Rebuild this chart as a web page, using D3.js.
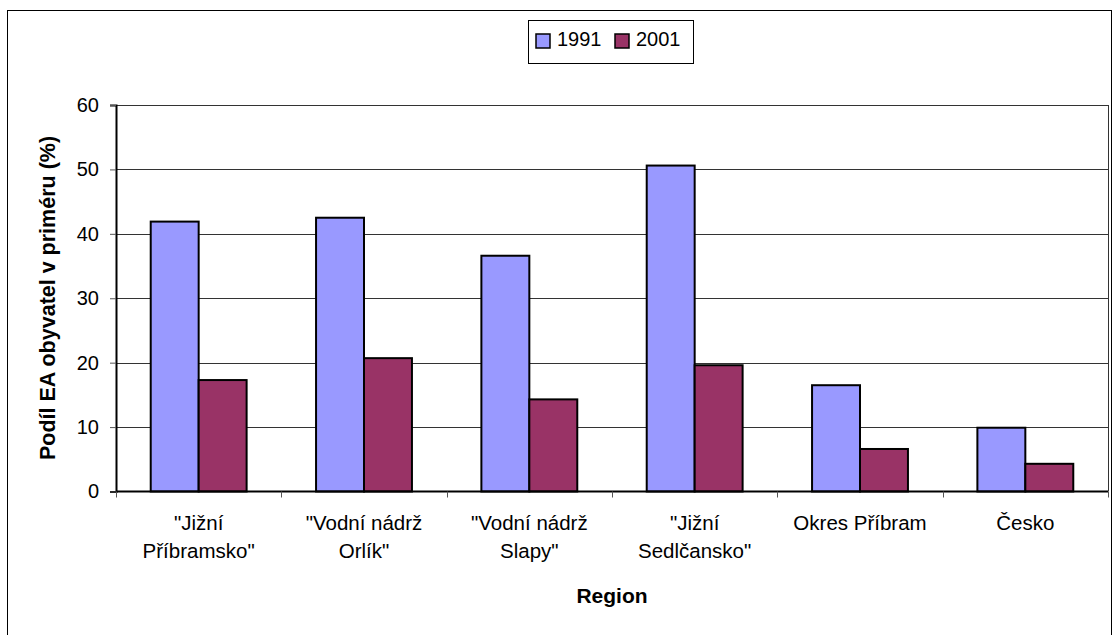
<!DOCTYPE html>
<html>
<head>
<meta charset="utf-8">
<script src="https://cdn.jsdelivr.net/npm/d3@7"></script>
<style>
	body { margin: 0; background: white; }
	text { font-family: "Liberation Sans", Arial, sans-serif; }
</style>
</head>
<body>
<div id="root"></div>
<script>
//categories and values
const regions = [["\"Jižní", "Příbramsko\""], ["\"Vodní nádrž", "Orlík\""], ["\"Vodní nádrž", "Slapy\""], ["\"Jižní", "Sedlčansko\""], ["Okres Příbram"], ["Česko"]];
const years = ["1991", "2001"];
const values1991 = [41.9, 42.5, 36.6, 50.6, 16.5, 9.9];
const values2001 = [17.3, 20.7, 14.3, 19.6, 6.6, 4.3];
const yTicks = [0, 10, 20, 30, 40, 50, 60];
const colors = ["#9999ff", "#993366"];

//dimensions of svg canvas
const width = 1115;
const height = 635;
const plotLeft = 116, plotRight = 1108, plotTop = 105, plotBottom = 491.5;

const svg = d3.select("#root")
	.append("svg")
	.attr("width", width)
	.attr("height", height);

//outer chart border (bottom edge runs off the picture)
svg.append("rect")
	.attr("x", 7.5).attr("y", 10.5)
	.attr("width", 1104).attr("height", 640)
	.attr("fill", "white")
	.attr("stroke", "black");

const idx = d3.range(regions.length);

const xScale = d3.scaleBand()
	.domain(idx)
	.range([plotLeft, plotRight])
	.paddingInner(0.42)
	.paddingOuter(0.21);

const xSub = d3.scaleBand()
	.domain(years)
	.range([0, xScale.bandwidth()]);

const yScale = d3.scaleLinear()
	.domain([0, 60])
	.range([plotBottom, plotTop]);

//gridlines
svg.append("g")
	.selectAll("line")
	.data(yTicks.slice(1))
	.enter()
	.append("line")
	.attr("x1", plotLeft).attr("x2", plotRight)
	.attr("y1", d => Math.round(yScale(d)) + 0.5)
	.attr("y2", d => Math.round(yScale(d)) + 0.5)
	.attr("stroke", "#333");

//right border of plot area
svg.append("line")
	.attr("x1", plotRight + 0.5).attr("x2", plotRight + 0.5)
	.attr("y1", plotTop).attr("y2", plotBottom)
	.attr("stroke", "#333");

//bars
const series = [values1991, values2001];
series.forEach(function(vals, s){
	svg.append("g")
	.selectAll("rect")
	.data(vals)
	.enter()
	.append("rect")
	.attr("x", (d, i) => xScale(i) + xSub(years[s]))
	.attr("y", d => yScale(d))
	.attr("width", xSub.bandwidth())
	.attr("height", d => plotBottom - yScale(d))
	.attr("fill", colors[s])
	.attr("stroke", "black")
	.attr("stroke-width", 2);
});

//Y axis
const yAxis = d3.axisLeft(yScale).tickValues(yTicks).tickSize(6).tickPadding(11);
const gy = svg.append("g")
	.attr("transform", "translate(" + plotLeft + ",0)")
	.call(yAxis);
gy.select(".domain").attr("stroke-width", 2);
gy.selectAll(".tick line").attr("stroke", "#555");
gy.selectAll("text").style("font-size", "20px").attr("fill", "black");

//X axis with ticks between categories
const xEdge = d3.scaleLinear().domain([0, regions.length]).range([plotLeft, plotRight]);
svg.append("line")
	.attr("x1", plotLeft).attr("x2", plotRight)
	.attr("y1", plotBottom).attr("y2", plotBottom)
	.attr("stroke", "black").attr("stroke-width", 2);
svg.append("g")
	.selectAll("line")
	.data(d3.range(regions.length + 1))
	.enter()
	.append("line")
	.attr("x1", d => Math.round(xEdge(d)) + 0.5)
	.attr("x2", d => Math.round(xEdge(d)) + 0.5)
	.attr("y1", plotBottom).attr("y2", plotBottom + 6)
	.attr("stroke", "#555");

//category labels
const labels = svg.append("g")
	.selectAll("text")
	.data(regions)
	.enter()
	.append("text")
	.attr("text-anchor", "middle")
	.style("font-size", "20.5px")
	.attr("transform", (d, i) => "translate(" + xEdge(i + 0.5) + ",530)");
labels.selectAll("tspan")
	.data(d => d)
	.enter()
	.append("tspan")
	.attr("x", 0)
	.attr("dy", (d, j) => j === 0 ? 0 : 28)
	.text(d => d);

//axis titles
svg.append("text")
	.attr("x", 612)
	.attr("y", 603)
	.attr("text-anchor", "middle")
	.style("font-size", "21px")
	.style("font-weight", "bold")
	.text("Region");

svg.append("text")
	.attr("transform", "translate(55, 298) rotate(-90)")
	.attr("text-anchor", "middle")
	.style("font-size", "21.5px")
	.style("font-weight", "bold")
	.text("Podíl EA obyvatel v priméru (%)");

//legend
const legend = svg.append("g");
legend.append("rect")
	.attr("x", 528.5).attr("y", 20.5)
	.attr("width", 165).attr("height", 43)
	.attr("fill", "white").attr("stroke", "black");
const items = legend.selectAll("g")
	.data(years)
	.enter()
	.append("g")
	.attr("transform", (d, i) => "translate(" + (536 + i * 79) + ",34)");
items.append("rect")
	.attr("width", 14).attr("height", 14)
	.attr("fill", (d, i) => colors[i])
	.attr("stroke", "black").attr("stroke-width", 1.5);
items.append("text")
	.attr("x", 21).attr("y", 12)
	.style("font-size", "20px")
	.text(d => d);
</script>
</body>
</html>
